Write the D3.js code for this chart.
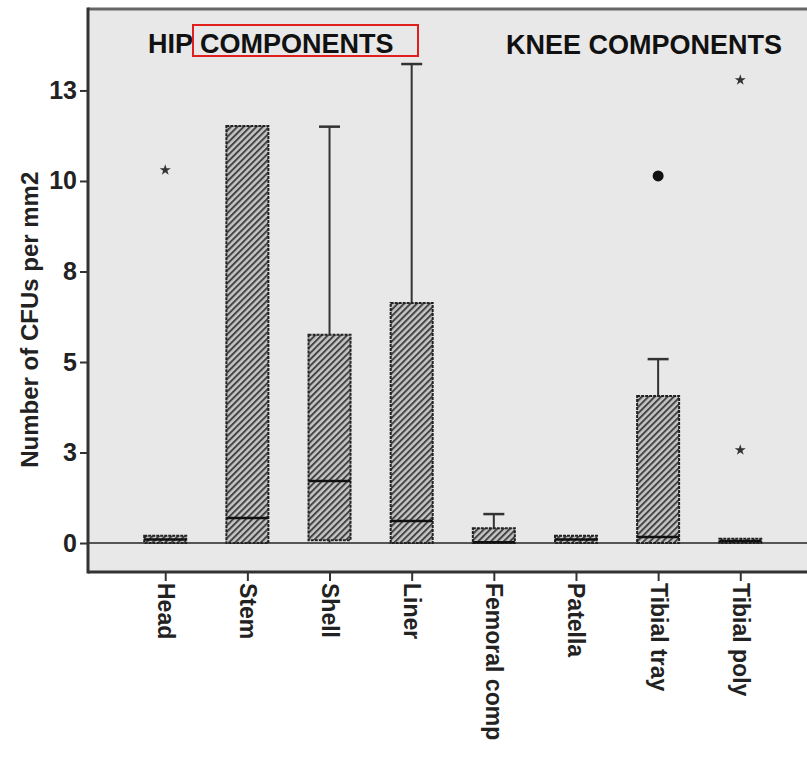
<!DOCTYPE html>
<html>
<head>
<meta charset="utf-8">
<script src="https://cdn.jsdelivr.net/npm/d3@7"></script>
<style>
  body { margin: 0; background: #fff; }
  svg { display: block; font-family: "Liberation Sans", Arial, sans-serif; }
</style>
</head>
<body>
<svg id="chart" width="807" height="760"></svg>
<script>
'use strict';

// data
const categories = ["Head", "Stem", "Shell", "Liner", "Femoral comp", "Patella", "Tibial tray", "Tibial poly"];
const whiskerLow  = [0,    0,     0,    0,     0,    0,    0,    0];
const q1          = [0,    0,     0.08, 0,     0,    0,    0,    0];
const medians     = [0.1,  0.69,  1.71, 0.61,  0.02, 0.1,  0.17, 0.05];
const q3          = [0.2,  11.52, 5.75, 6.63,  0.41, 0.2,  4.06, 0.12];
const whiskerHigh = [0.2,  11.52, 11.5, 13.23, 0.8,  0.2,  5.08, 0.12];
// outliers (circle) and extremes (star)
const outlierCats = ["Tibial tray"];
const outlierVals = [10.14];
const extremeCats = ["Head", "Tibial poly", "Tibial poly"];
const extremeVals = [10.3, 12.79, 2.57];

const yTickValues = [0, 2.5, 5, 7.5, 10, 12.5];
const yTickLabels = ["0", "3", "5", "8", "10", "13"];

const svg = d3.select("#chart");
const plotL = 88, plotR = 817.5, plotT = 9, plotB = 572;

const x = d3.scalePoint().domain(categories).range([plotL, plotR]).padding(0.94);
const y = d3.scaleLinear().domain([-0.8, 14.75]).range([plotB, plotT]);

// hatch pattern
const defs = svg.append("defs");
const pat = defs.append("pattern")
  .attr("id", "hatch")
  .attr("patternUnits", "userSpaceOnUse")
  .attr("width", 4.5).attr("height", 4.5)
  .attr("patternTransform", "rotate(45)");
pat.append("rect").attr("width", 4.5).attr("height", 4.5).attr("fill", "#c6c6c6");
pat.append("line").attr("x1", 1).attr("x2", 1).attr("y1", 0).attr("y2", 4.5)
  .attr("stroke", "#444").attr("stroke-width", 2);

// plot background
svg.append("rect")
  .attr("x", plotL).attr("y", plotT)
  .attr("width", plotR - plotL).attr("height", plotB - plotT)
  .attr("fill", "#e8e8e8");

// zero reference line
svg.append("line")
  .attr("x1", plotL).attr("x2", plotR)
  .attr("y1", y(0)).attr("y2", y(0))
  .attr("stroke", "#555").attr("stroke-width", 2);

const rows = categories.map((c, i) => ({
  cat: c, lo: whiskerLow[i], q1: q1[i], med: medians[i], q3: q3[i], hi: whiskerHigh[i]
}));

const boxW = 42, capW = 21;
const g = svg.append("g").attr("class", "boxes");

// whiskers
g.selectAll(".whisker-hi").data(rows.filter(d => d.hi > d.q3)).enter()
  .append("line")
  .attr("x1", d => x(d.cat)).attr("x2", d => x(d.cat))
  .attr("y1", d => y(d.q3)).attr("y2", d => y(d.hi))
  .attr("stroke", "#333").attr("stroke-width", 2);
g.selectAll(".cap-hi").data(rows.filter(d => d.hi > d.q3)).enter()
  .append("line")
  .attr("x1", d => x(d.cat) - capW / 2).attr("x2", d => x(d.cat) + capW / 2)
  .attr("y1", d => y(d.hi)).attr("y2", d => y(d.hi))
  .attr("stroke", "#333").attr("stroke-width", 2.5);
g.selectAll(".whisker-lo").data(rows.filter(d => d.lo < d.q1)).enter()
  .append("line")
  .attr("x1", d => x(d.cat)).attr("x2", d => x(d.cat))
  .attr("y1", d => y(d.q1)).attr("y2", d => y(d.lo))
  .attr("stroke", "#333").attr("stroke-width", 2);

// boxes
g.selectAll(".box").data(rows).enter()
  .append("rect")
  .attr("x", d => x(d.cat) - boxW / 2)
  .attr("width", boxW)
  .attr("y", d => y(d.q3))
  .attr("height", d => Math.max(y(d.q1) - y(d.q3), 1))
  .attr("fill", "url(#hatch)")
  .attr("stroke", "#222").attr("stroke-width", 2)
  .attr("stroke-dasharray", "3,1");

// medians
g.selectAll(".median").data(rows).enter()
  .append("line")
  .attr("x1", d => x(d.cat) - boxW / 2).attr("x2", d => x(d.cat) + boxW / 2)
  .attr("y1", d => y(d.med)).attr("y2", d => y(d.med))
  .attr("stroke", "#111").attr("stroke-width", 2.5);

// outliers
g.selectAll(".outlier").data(outlierCats.map((c, i) => ({cat: c, v: outlierVals[i]}))).enter()
  .append("circle")
  .attr("cx", d => x(d.cat)).attr("cy", d => y(d.v))
  .attr("r", 5.5).attr("fill", "#111");

const star = d3.symbol().type(d3.symbolStar).size(38);
g.selectAll(".extreme").data(extremeCats.map((c, i) => ({cat: c, v: extremeVals[i]}))).enter()
  .append("path")
  .attr("d", star)
  .attr("transform", d => `translate(${x(d.cat)},${y(d.v)})`)
  .attr("fill", "#333");

// frame
svg.append("line").attr("x1", plotL).attr("x2", plotR).attr("y1", plotT).attr("y2", plotT)
  .attr("stroke", "#666").attr("stroke-width", 3);
svg.append("line").attr("x1", plotL).attr("x2", plotL).attr("y1", plotT - 1.5).attr("y2", plotB + 1.5)
  .attr("stroke", "#333").attr("stroke-width", 3);

// axes
const yAxis = d3.axisLeft(y)
  .tickValues(yTickValues)
  .tickFormat((d, i) => yTickLabels[i])
  .tickSize(8).tickPadding(3);
const yg = svg.append("g").attr("transform", `translate(${plotL},0)`).call(yAxis);
yg.select(".domain").remove();
yg.selectAll(".tick line").attr("stroke", "#333").attr("stroke-width", 2);
yg.selectAll(".tick text")
  .attr("font-size", 25).attr("font-weight", "bold").attr("fill", "#222");

const xAxis = d3.axisBottom(x).tickSize(9).tickPadding(4);
const xg = svg.append("g").attr("transform", `translate(0,${plotB})`).call(xAxis);
xg.select(".domain").attr("stroke", "#333").attr("stroke-width", 3)
  .attr("d", `M${plotL},0H${plotR}`);
xg.selectAll(".tick line").attr("stroke", "#333").attr("stroke-width", 2);
xg.selectAll(".tick text")
  .attr("font-size", 23).attr("font-weight", "bold").attr("fill", "#222")
  .attr("text-anchor", "start")
  .attr("dy", "0.35em")
  .attr("transform", "translate(0,11) rotate(90)")
  .attr("x", 0).attr("y", 0);

// y title
svg.append("text")
  .attr("transform", `translate(38,${(y(0) + y(12.5)) / 2 + 3}) rotate(-90)`)
  .attr("text-anchor", "middle")
  .attr("font-size", 24).attr("font-weight", "bold").attr("fill", "#222")
  .text("Number of CFUs per mm2");

// group titles
svg.append("text").attr("x", 148).attr("y", 53)
  .attr("font-size", 27).attr("font-weight", "bold").attr("fill", "#111")
  .text("HIP COMPONENTS");
svg.append("text").attr("x", 506).attr("y", 54)
  .attr("font-size", 27).attr("font-weight", "bold").attr("fill", "#111")
  .text("KNEE COMPONENTS");
svg.append("rect")
  .attr("x", 193).attr("y", 25).attr("width", 225).attr("height", 31)
  .attr("fill", "none").attr("stroke", "#e0201c").attr("stroke-width", 2);
</script>
</body>
</html>
